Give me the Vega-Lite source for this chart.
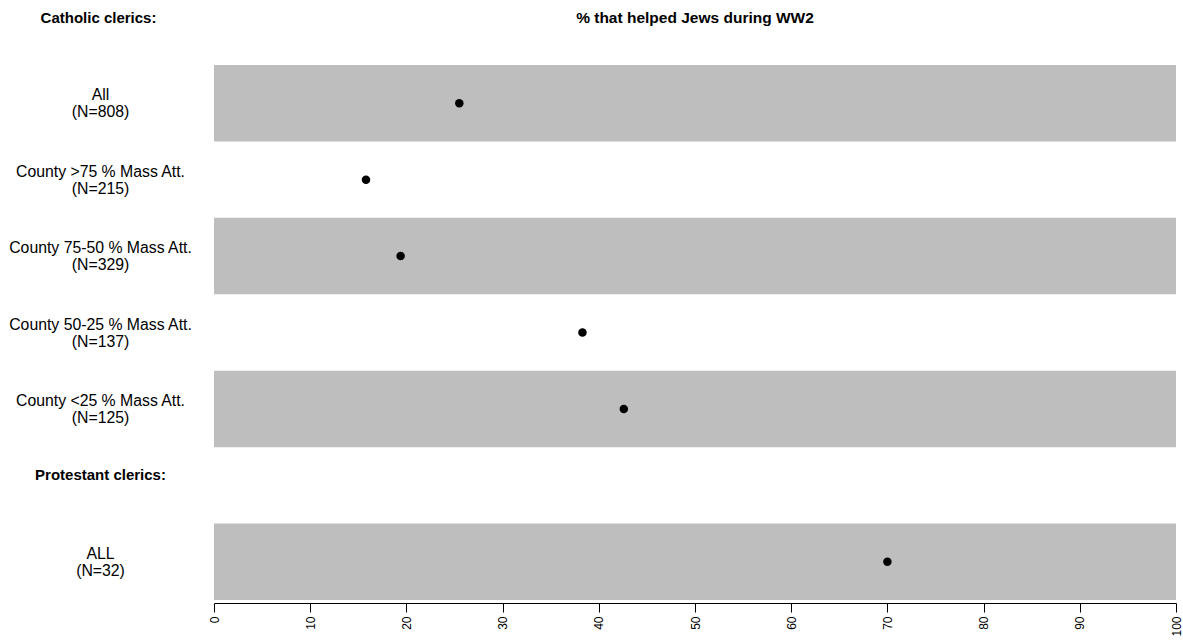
{
  "$schema": "https://vega.github.io/schema/vega-lite/v6.json",
  "width": 962,
  "height": 535,
  "autosize": "none",
  "padding": {"left": 214, "top": 65, "right": 7, "bottom": 40},
  "background": "white",
  "config": {
    "view": {"stroke": null},
    "font": "Liberation Sans"
  },
  "title": {
    "text": "% that helped Jews during WW2",
    "fontSize": 15.5,
    "fontWeight": "bold",
    "color": "black",
    "anchor": "middle",
    "frame": "group",
    "baseline": "middle",
    "offset": -23
  },
  "data": {
    "values": [
      {"group": "All|(N=808)", "pct": 25.5},
      {"group": "County >75 % Mass Att.|(N=215)", "pct": 15.8},
      {"group": "County 75-50 % Mass Att.|(N=329)", "pct": 19.4},
      {"group": "County 50-25 % Mass Att.|(N=137)", "pct": 38.3},
      {"group": "County <25 % Mass Att.|(N=125)", "pct": 42.6},
      {"group": "Protestant clerics:", "pct": null},
      {"group": "ALL|(N=32)", "pct": 70.0}
    ]
  },
  "encoding": {
    "y": {
      "field": "group",
      "type": "nominal",
      "sort": null,
      "scale": {
        "domain": [
          "All|(N=808)",
          "County >75 % Mass Att.|(N=215)",
          "County 75-50 % Mass Att.|(N=329)",
          "County 50-25 % Mass Att.|(N=137)",
          "County <25 % Mass Att.|(N=125)",
          "Protestant clerics:",
          "ALL|(N=32)"
        ],
        "paddingInner": 0,
        "paddingOuter": 0
      },
      "axis": {
        "title": "Catholic clerics:",
        "titleAngle": 0,
        "titleX": -116,
        "titleY": -48,
        "titleAlign": "center",
        "titleBaseline": "middle",
        "titleFontSize": 15,
        "titleFontWeight": "bold",
        "titleColor": "black",
        "domain": false,
        "ticks": false,
        "grid": false,
        "labelExpr": "split(datum.label, '|')",
        "labelAlign": "center",
        "labelBaseline": "middle",
        "labelPadding": 114,
        "labelLimit": 400,
        "labelLineHeight": 17,
        "labelColor": "black",
        "labelFontSize": {"condition": {"test": "datum.value == 'Protestant clerics:'", "value": 15}, "value": 15.8},
        "labelFontWeight": {"condition": {"test": "datum.value == 'Protestant clerics:'", "value": "bold"}, "value": "normal"},
        "labelOffset": {"condition": {"test": "datum.value == 'Protestant clerics:'", "value": -10}, "value": -8}
      }
    }
  },
  "layer": [
    {
      "transform": [
        {"window": [{"op": "row_number", "as": "rank"}]},
        {"filter": "datum.rank % 2 == 1"}
      ],
      "mark": {"type": "rect", "color": "#bebebe"},
      "encoding": {
        "x": {"datum": 0, "type": "quantitative", "scale": {"domain": [0, 100], "nice": false, "zero": false}},
        "x2": {"datum": 100}
      }
    },
    {
      "mark": {"type": "circle", "size": 72, "color": "black", "opacity": 1},
      "encoding": {
        "x": {
          "field": "pct",
          "type": "quantitative",
          "scale": {"domain": [0, 100], "nice": false, "zero": false},
          "axis": {
            "title": null,
            "grid": false,
            "values": [0, 10, 20, 30, 40, 50, 60, 70, 80, 90, 100],
            "offset": 3,
            "tickSize": 9,
            "tickColor": "black",
            "domainColor": "black",
            "labelColor": "black",
            "labelFontSize": 12,
            "labelAngle": 270,
            "labelAlign": "right",
            "labelBaseline": "middle",
            "labelPadding": 4,
            "labelFlush": false,
            "labelOverlap": false
          }
        }
      }
    }
  ]
}
